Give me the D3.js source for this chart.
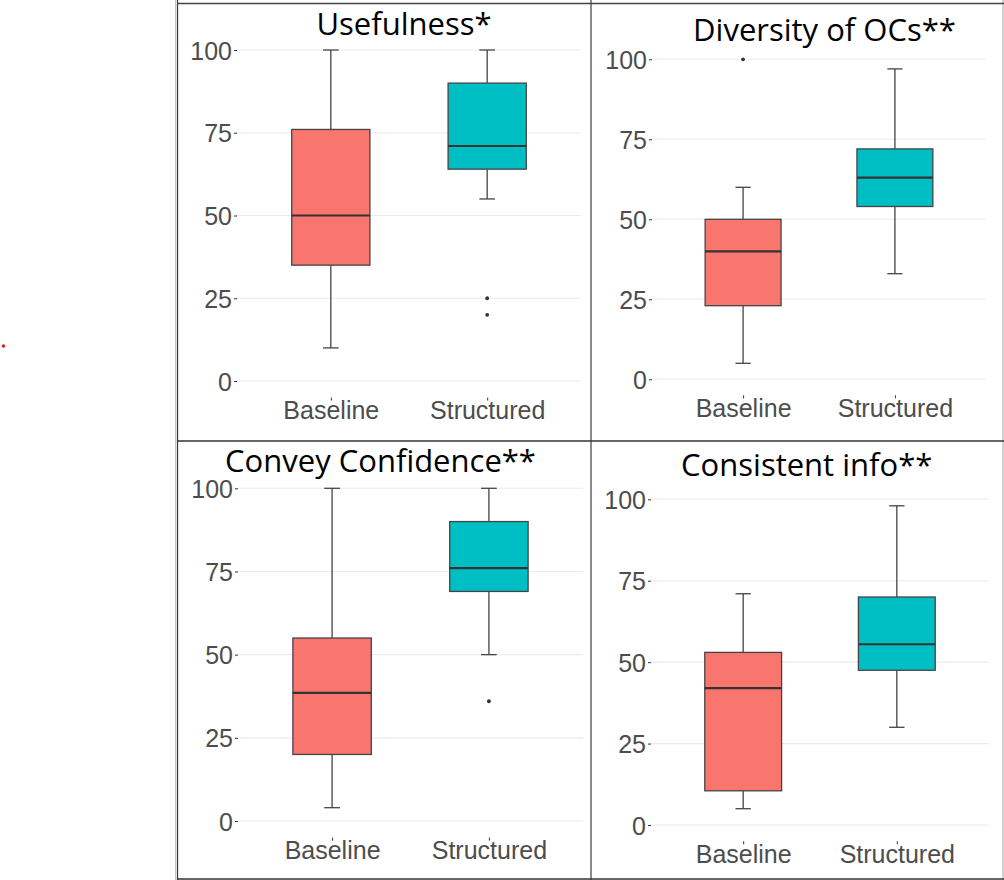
<!DOCTYPE html>
<html>
<head>
<meta charset="utf-8">
<script src="https://cdn.jsdelivr.net/npm/d3@7"></script>
<style>
  html, body { margin: 0; padding: 0; background: #fff; }
  svg { display: block; }
</style>
</head>
<body>
<script>
// ---------- data ----------
const categories = ["Baseline", "Structured"];
const titles = ["Usefulness*", "Diversity of OCs**", "Convey Confidence**", "Consistent info**"];
const yTicks = [0, 25, 50, 75, 100];
// [lower whisker, Q1, median, Q3, upper whisker]
const baselineStats = [
  [10, 35, 50, 76, 100],
  [5, 23, 40, 50, 60],
  [4, 20, 38.5, 55, 100],
  [5, 10.5, 42, 53, 71]
];
const structuredStats = [
  [55, 64, 71, 90, 100],
  [33, 54, 63, 72, 97],
  [50, 69, 76, 90, 100],
  [30, 47.5, 55.5, 70, 98]
];
const baselineOutliers = [[], [100], [], []];
const structuredOutliers = [[25, 20], [], [36], []];
const fillColors = ["#F8766D", "#00BFC4"];

// ---------- layout ----------
const W = 1004, H = 880;
const panels = [
  {left: 237, right: 581, y100: 50,    y0: 381,   tx: 404,   ty: 35,    lx: 419},
  {left: 652, right: 986, y100: 59.3,  y0: 379.3, tx: 824.5, ty: 40.7,  lx: 416.7},
  {left: 238, right: 583, y100: 488.3, y0: 821,   tx: 380.5, ty: 471.7, lx: 859},
  {left: 651, right: 989, y100: 499.3, y0: 825,   tx: 806.7, ty: 475.7, lx: 863.3}
];

const svg = d3.select("body").append("svg")
  .attr("width", W).attr("height", H);
svg.append("rect").attr("width", W).attr("height", H).attr("fill", "#fff");

panels.forEach((p, i) => {
  const y = d3.scaleLinear().domain([0, 100]).range([p.y0, p.y100]);
  const bottom = y(-5);
  const x = d3.scalePoint().domain(categories).range([p.left, p.right]).padding(0.6);
  const step = x.step();
  const g = svg.append("g");

  // gridlines
  g.selectAll("line.grid").data(yTicks).join("line")
    .attr("x1", p.left).attr("x2", p.right)
    .attr("y1", d => y(d)).attr("y2", d => y(d))
    .attr("stroke", "#EBEBEB").attr("stroke-width", 1.1);

  // y axis
  const yAxis = d3.axisLeft(y).tickValues(yTicks).tickSize(3).tickPadding(2);
  const ya = g.append("g").attr("transform", `translate(${p.left},0)`).call(yAxis);
  ya.select(".domain").remove();
  ya.selectAll(".tick line").attr("stroke", "#333").attr("stroke-width", 1);
  ya.selectAll(".tick text")
    .attr("fill", "#4D4D4D")
    .style("font-family", "'Liberation Sans', Arial, sans-serif")
    .style("font-size", "25px")
    .attr("dy", "0.36em");

  // x axis
  const xAxis = d3.axisBottom(x).tickSize(3).tickPadding(0);
  const xa = g.append("g").attr("transform", `translate(0,${bottom})`).call(xAxis);
  xa.select(".domain").remove();
  xa.selectAll(".tick line").attr("stroke", "#333").attr("stroke-width", 1);
  xa.selectAll(".tick text")
    .attr("fill", "#4D4D4D")
    .style("font-family", "'Liberation Sans', Arial, sans-serif")
    .style("font-size", "25px")
    .attr("y", p.lx - bottom).attr("dy", 0);

  // boxes
  const statsList = [baselineStats[i], structuredStats[i]];
  const outList = [baselineOutliers[i], structuredOutliers[i]];
  categories.forEach((c, k) => {
    const s = statsList[k];
    const cx = x(c);
    const bw = step * 0.5;
    const cw = step * 0.1;
    // whiskers
    g.append("line").attr("x1", cx).attr("x2", cx)
      .attr("y1", y(s[3])).attr("y2", y(s[4]))
      .attr("stroke", "#444").attr("stroke-width", 1.3);
    g.append("line").attr("x1", cx).attr("x2", cx)
      .attr("y1", y(s[1])).attr("y2", y(s[0]))
      .attr("stroke", "#444").attr("stroke-width", 1.3);
    // caps
    [s[0], s[4]].forEach(v => {
      g.append("line").attr("x1", cx - cw / 2).attr("x2", cx + cw / 2)
        .attr("y1", y(v)).attr("y2", y(v))
        .attr("stroke", "#444").attr("stroke-width", 1.3);
    });
    // box
    g.append("rect")
      .attr("x", cx - bw / 2).attr("width", bw)
      .attr("y", y(s[3])).attr("height", y(s[1]) - y(s[3]))
      .attr("fill", fillColors[k]).attr("stroke", "#444").attr("stroke-width", 1.3);
    // median
    g.append("line").attr("x1", cx - bw / 2).attr("x2", cx + bw / 2)
      .attr("y1", y(s[2])).attr("y2", y(s[2]))
      .attr("stroke", "#333").attr("stroke-width", 2.2);
    // outliers
    g.selectAll(null).data(outList[k]).join("circle")
      .attr("cx", cx).attr("cy", d => y(d)).attr("r", 1.9)
      .attr("fill", "#333");
  });

  // title
  g.append("text")
    .attr("x", p.tx).attr("y", p.ty)
    .attr("text-anchor", "middle")
    .style("font-family", "'Open Sans', 'Noto Sans', sans-serif")
    .style("font-size", "31px")
    .attr("fill", "#000")
    .text(titles[i]);
});

// frame lines
const frame = svg.append("g");
frame.append("line").attr("x1", 175.5).attr("x2", 175.5).attr("y1", 0).attr("y2", H)
  .attr("stroke", "#c4c4c4").attr("stroke-width", 1);
frame.append("line").attr("x1", 177.5).attr("x2", 177.5).attr("y1", 0).attr("y2", 880)
  .attr("stroke", "#3a3a3a").attr("stroke-width", 1.3);
frame.append("line").attr("x1", 1003).attr("x2", 1003).attr("y1", 0).attr("y2", H)
  .attr("stroke", "#b8b8b8").attr("stroke-width", 1.3);
frame.append("line").attr("x1", 591).attr("x2", 591).attr("y1", 0).attr("y2", H)
  .attr("stroke", "#8a8a8a").attr("stroke-width", 2);
frame.append("line").attr("x1", 177).attr("x2", 1004).attr("y1", 3.5).attr("y2", 3.5)
  .attr("stroke", "#444").attr("stroke-width", 1.4);
frame.append("line").attr("x1", 177).attr("x2", 1004).attr("y1", 441).attr("y2", 441)
  .attr("stroke", "#333").attr("stroke-width", 1.5);
frame.append("line").attr("x1", 177).attr("x2", 1004).attr("y1", 879).attr("y2", 879)
  .attr("stroke", "#333").attr("stroke-width", 1.6);

// small red mark at left edge
svg.append("circle").attr("cx", 3.5).attr("cy", 346).attr("r", 1.8).attr("fill", "#e02020");
</script>
</body>
</html>
